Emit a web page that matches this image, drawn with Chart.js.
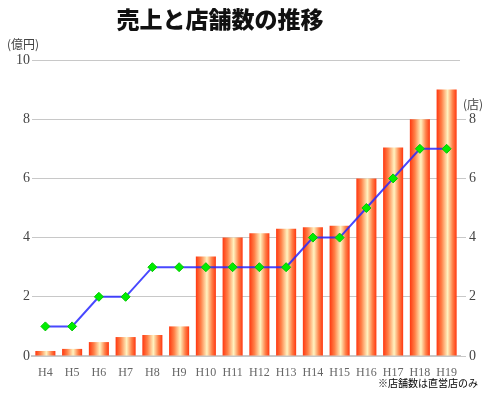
<!DOCTYPE html>
<html>
<head>
<meta charset="utf-8">
<script src="https://cdn.jsdelivr.net/npm/chart.js@4"></script>
<style>
  html, body { margin: 0; padding: 0; background: #fff; }
  #wrap { width: 500px; height: 400px; }
</style>
</head>
<body>
<div id="wrap"><canvas id="chart" width="500" height="400"></canvas></div>
<script>
// data
const years = ['H4','H5','H6','H7','H8','H9','H10','H11','H12','H13','H14','H15','H16','H17','H18','H19'];
const sales = [0.17, 0.24, 0.47, 0.64, 0.71, 1.0, 3.36, 4.0, 4.15, 4.3, 4.35, 4.4, 6.0, 7.04, 8.0, 9.0]; // 億円
const stores = [1, 1, 2, 2, 3, 3, 3, 3, 3, 3, 4, 4, 5, 6, 7, 7]; // 店
const titleText = '売上と店舗数の推移';
const leftUnit = '(億円)';
const rightUnit = '(店)';
const note = '※店舗数は直営店のみ';

const jp = '"Noto Sans CJK JP", sans-serif';
const serif = '"Liberation Serif", "DejaVu Serif", serif';

// horizontal cylinder-like gradient for each bar
function barFill(ctx) {
  const chart = ctx.chart;
  const xs = chart.scales.x;
  if (!xs || ctx.dataIndex === undefined) return '#ff5020';
  const cx = xs.getPixelForValue(ctx.dataIndex);
  if (!isFinite(cx)) return '#ff5020';
  const half = 10;
  const g = chart.ctx.createLinearGradient(cx - half, 0, cx + half, 0);
  g.addColorStop(0, '#ff3810');
  g.addColorStop(0.25, '#ff8048');
  g.addColorStop(0.55, '#fff3c0');
  g.addColorStop(0.8, '#ff8048');
  g.addColorStop(1, '#ff3810');
  return g;
}

// title, unit labels and footnote
const textPlugin = {
  id: 'texts',
  afterDraw(chart) {
    const c = chart.ctx;
    c.save();
    c.fillStyle = '#111';
    c.font = '900 23px ' + jp;
    c.textAlign = 'center';
    c.textBaseline = 'middle';
    c.fillText(titleText, 220, 19);

    c.fillStyle = '#444';
    c.font = '12px ' + jp;
    c.textAlign = 'left';
    c.fillText(leftUnit, 7, 44);
    c.fillText(rightUnit, 463, 104);

    c.fillStyle = '#000';
    c.font = '10px ' + jp;
    c.fillText(note, 378, 383);
    c.restore();
  }
};

const chart = new Chart(document.getElementById('chart'), {
  data: {
    labels: years,
    datasets: [
      {
        type: 'line',
        data: stores,
        yAxisID: 'y2',
        order: 0,
        borderColor: 'rgba(40,40,255,0.85)',
        borderWidth: 2,
        tension: 0,
        pointStyle: 'rectRot',
        pointRadius: 4.5,
        pointBackgroundColor: '#00ee00',
        pointBorderColor: '#00c800',
        pointBorderWidth: 1
      },
      {
        type: 'bar',
        data: sales,
        yAxisID: 'y',
        order: 1,
        backgroundColor: barFill,
        borderWidth: 0,
        barPercentage: 0.75,
        categoryPercentage: 1
      }
    ]
  },
  options: {
    responsive: false,
    animation: false,
    layout: { padding: { top: 60, left: 0, right: 0, bottom: 0 } },
    plugins: {
      legend: { display: false },
      tooltip: { enabled: false }
    },
    scales: {
      x: {
        afterFit: s => { s.height = 44; },
        grid: { display: false },
        border: { display: true, color: '#c8c8c8', width: 2 },
        ticks: { color: '#666', font: { family: serif, size: 12 }, padding: 2, maxRotation: 0, autoSkip: false }
      },
      y: {
        position: 'left',
        min: 0, max: 10,
        afterFit: s => { s.width = 32; },
        grid: { color: '#c8c8c8', lineWidth: 1, drawTicks: false },
        border: { display: false },
        ticks: { stepSize: 2, color: '#444', font: { family: serif, size: 14 }, padding: 2 }
      },
      y2: {
        position: 'right',
        min: 0, max: 10,
        afterFit: s => { s.width = 40; },
        afterBuildTicks: s => { s.ticks = s.ticks.filter(t => t.value <= 8); },
        grid: { drawOnChartArea: false, color: '#c8c8c8', tickLength: 6 },
        border: { display: false },
        ticks: { stepSize: 2, color: '#444', font: { family: serif, size: 14 }, padding: 3 }
      }
    }
  },
  plugins: [textPlugin]
});
// the gradients depend on the laid-out x scale, so redraw once it exists
chart.update('none');
</script>
</body>
</html>
